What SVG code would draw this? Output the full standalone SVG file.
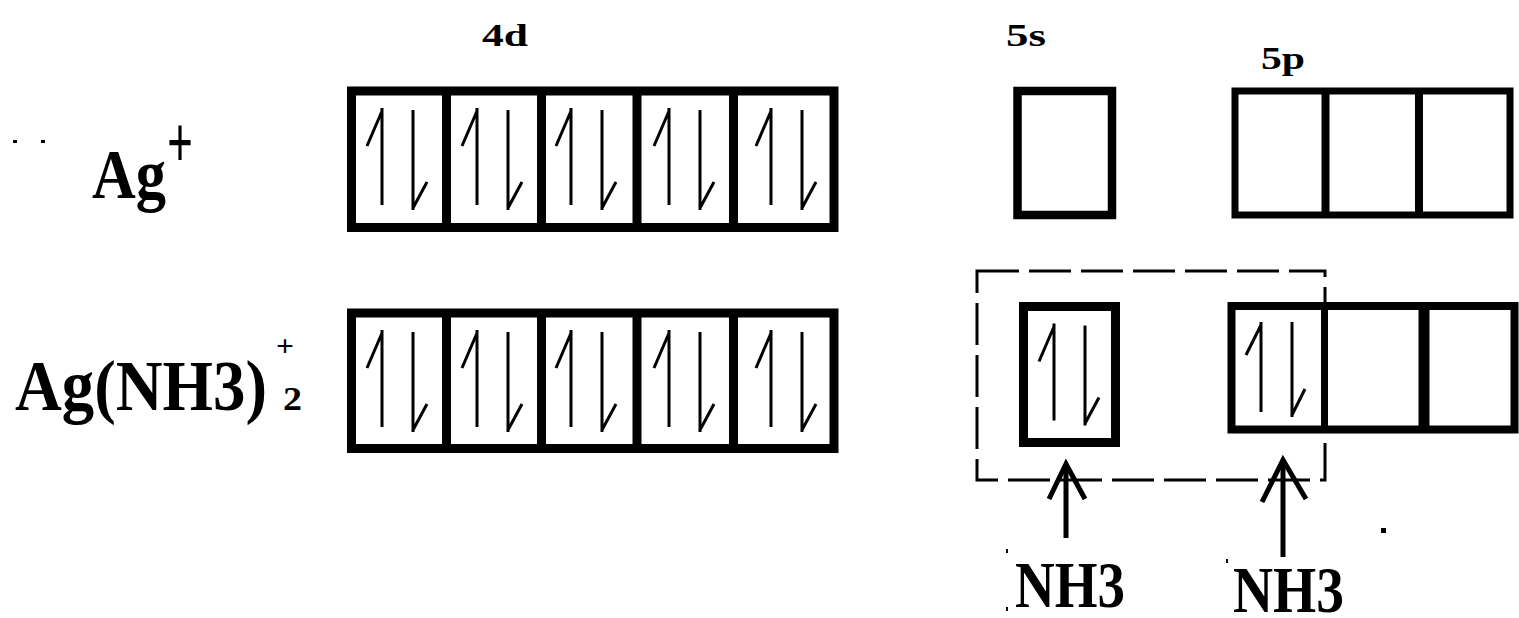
<svg xmlns="http://www.w3.org/2000/svg" xmlns:xlink="http://www.w3.org/1999/xlink" width="1519" height="618" viewBox="0 0 1519 618">
<style>
.box{fill:#fff;stroke:#000;stroke-width:9}
.div{stroke:#000;stroke-width:9}
.e{fill:none;stroke:#000;stroke-width:3}
.lbl{font-family:"Liberation Serif",serif;font-weight:bold;fill:#000}
.big{font-family:"Liberation Serif",serif;font-weight:bold;fill:#000}
.nh{font-family:"Liberation Serif",serif;font-weight:bold;fill:#000}
.ar{fill:none;stroke:#000;stroke-width:5}
.dash{fill:none;stroke:#000;stroke-width:3;stroke-dasharray:42 10}
</style>
<defs>
<g id="pair">
<path class="e" d="M0,17V114M0,20L-15,55"/>
<path class="e" d="M31,19V119M31,117L45,91"/>
</g>
</defs>
<rect width="1519" height="618" fill="#fff"/>

<g id="labels">
<text class="lbl" x="482" y="46" font-size="32" textLength="46" lengthAdjust="spacingAndGlyphs">4d</text>
<text class="lbl" x="1006" y="46" font-size="32" textLength="40" lengthAdjust="spacingAndGlyphs">5s</text>
<text class="lbl" x="1261" y="69" font-size="32" textLength="44" lengthAdjust="spacingAndGlyphs">5p</text>
</g>

<g id="ag-plus">
<text class="big" x="92" y="198" font-size="70" textLength="74" lengthAdjust="spacingAndGlyphs">Ag</text>
<text class="big" x="167" y="167" font-size="74" textLength="26" lengthAdjust="spacingAndGlyphs">+</text>
<rect x="13" y="140" width="4" height="3" fill="#000"/>
<rect x="41" y="140" width="4" height="3" fill="#000"/>
</g>

<g id="ag-nh3-2">
<text class="big" x="15" y="410" font-size="72" textLength="252" lengthAdjust="spacingAndGlyphs">Ag(NH3)</text>
<text class="big" x="276" y="356" font-size="30" textLength="18" lengthAdjust="spacingAndGlyphs">+</text>
<text class="big" x="283" y="410" font-size="34" textLength="19" lengthAdjust="spacingAndGlyphs">2</text>
</g>

<g id="row1-4d">
<rect class="box" x="351.5" y="91" width="482.5" height="136.5"/>
<path class="div" d="M446.5,91V227.5M541.5,91V227.5M637,91V227.5M733.5,91V227.5"/>
<use xlink:href="#pair" x="382" y="91"/>
<use xlink:href="#pair" x="477" y="91"/>
<use xlink:href="#pair" x="571" y="91"/>
<use xlink:href="#pair" x="669" y="91"/>
<use xlink:href="#pair" x="771" y="91"/>
</g>

<g id="row1-5s">
<rect class="box" x="1017.5" y="91" width="94.5" height="124" style="stroke-width:8.5"/>
</g>

<g id="row1-5p">
<rect class="box" x="1235" y="91" width="275" height="124" style="stroke-width:7"/>
<path class="div" d="M1325.5,91V215M1419,91V215" style="stroke-width:8"/>
</g>

<g id="row2-4d">
<rect class="box" x="351.5" y="313" width="482.5" height="135.5"/>
<path class="div" d="M446.5,313V448.5M541.5,313V448.5M637,313V448.5M733.5,313V448.5"/>
<use xlink:href="#pair" x="382" y="313"/>
<use xlink:href="#pair" x="477" y="313"/>
<use xlink:href="#pair" x="571" y="313"/>
<use xlink:href="#pair" x="669" y="313"/>
<use xlink:href="#pair" x="771" y="313"/>
</g>

<g id="row2-5s">
<rect class="box" x="1023.5" y="306.5" width="92" height="136"/>
<use xlink:href="#pair" x="1054" y="306.5"/>
</g>

<g id="row2-5p">
<rect class="box" x="1231.5" y="306" width="283" height="123.5" style="stroke-width:8"/>
<path class="div" d="M1324.5,306V429.5" style="stroke-width:7"/>
<path class="div" d="M1424,306V429.5" style="stroke-width:11"/>
<path class="e" d="M1261,322V412M1261,325L1246,355"/>
<path class="e" d="M1292,322V417M1292,415L1305,389"/>
</g>

<g id="hybrid-box">
<rect class="dash" x="977" y="271" width="348" height="209"/>
</g>

<g id="connectors">
<path class="ar" d="M1066,464V538"/>
<path class="ar" d="M1049,499L1066,464L1085,499" stroke-linejoin="miter"/>
<path class="ar" d="M1283,460V557"/>
<path class="ar" d="M1262,502L1283,460L1306,499" stroke-linejoin="miter"/>
</g>

<g id="nh3-1">
<text class="nh" x="1015" y="607" font-size="66" textLength="110" lengthAdjust="spacingAndGlyphs">NH3</text>
<rect x="1006" y="549" width="2" height="4" fill="#000"/>
<rect x="1006" y="607" width="2" height="4" fill="#000"/>
</g>

<g id="nh3-2">
<text class="nh" x="1233" y="612" font-size="66" textLength="111" lengthAdjust="spacingAndGlyphs">NH3</text>
<rect x="1226" y="559" width="2" height="4" fill="#000"/>
</g>

<g id="dot">
<rect x="1381" y="528" width="5" height="5" fill="#000"/>
</g>
</svg>
